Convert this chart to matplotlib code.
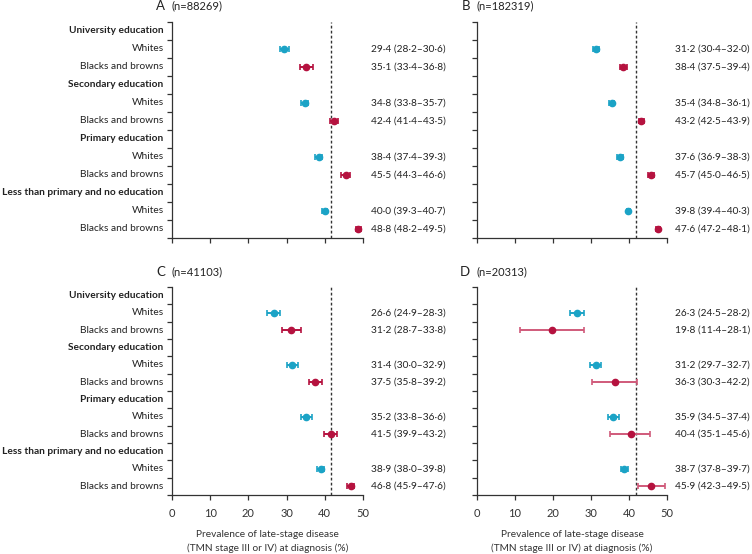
import matplotlib.pyplot as plt
import numpy as np

plt.rcParams['font.family'] = ['Lato', 'DejaVu Sans']

groups = ["University education", "Secondary education", "Primary education",
          "Less than primary and no education"]
races = ["Whites", "Blacks and browns"]

panel_names = ["A", "B", "C", "D"]
panel_n = ["(n=88269)", "(n=182319)", "(n=41103)", "(n=20313)"]
overall = [41.6, 41.8, 41.6, 41.8]

# estimate, lower, upper: order W, B&B per education group
est_a = [29.4, 35.1, 34.8, 42.4, 38.4, 45.5, 40.0, 48.8]
low_a = [28.2, 33.4, 33.8, 41.4, 37.4, 44.3, 39.3, 48.2]
upp_a = [30.6, 36.8, 35.7, 43.5, 39.3, 46.6, 40.7, 49.5]

est_b = [31.2, 38.4, 35.4, 43.2, 37.6, 45.7, 39.8, 47.6]
low_b = [30.4, 37.5, 34.8, 42.5, 36.9, 45.0, 39.4, 47.2]
upp_b = [32.0, 39.4, 36.1, 43.9, 38.3, 46.5, 40.3, 48.1]

est_c = [26.6, 31.2, 31.4, 37.5, 35.2, 41.5, 38.9, 46.8]
low_c = [24.9, 28.7, 30.0, 35.8, 33.8, 39.9, 38.0, 45.9]
upp_c = [28.3, 33.8, 32.9, 39.2, 36.6, 43.2, 39.8, 47.6]

est_d = [26.3, 19.8, 31.2, 36.3, 35.9, 40.4, 38.7, 45.9]
low_d = [24.5, 11.4, 29.7, 30.3, 34.5, 35.1, 37.8, 42.3]
upp_d = [28.2, 28.1, 32.7, 42.2, 37.4, 45.6, 39.7, 49.5]

panels = [(est_a, low_a, upp_a), (est_b, low_b, upp_b),
          (est_c, low_c, upp_c), (est_d, low_d, upp_d)]

BLUE = "#1ba3c6"
RED = "#b5123f"
FS = 7.3


def fmt(v):
    return f"{v:.1f}".replace(".", "\u00b7")


def draw_panel(ax, est, low, upp, name, n, ref, show_left, show_xlab, light_red):
    # 12 rows: header + 2 rows per education group
    labels = []
    for g in groups:
        labels.append((g, True))
        for r in races:
            labels.append((r, False))
    nrows = len(labels)
    idx = 0
    for i, (lab, is_head) in enumerate(labels):
        y = nrows - i - 0.5
        if show_left:
            ax.text(-2.2, y, lab, ha="right", va="center", fontsize=FS,
                    fontweight="bold" if is_head else "normal", color="#222222")
        if not is_head:
            e, lo, hi = est[idx], low[idx], upp[idx]
            col = BLUE if idx % 2 == 0 else RED
            ecol = col
            if light_red and col == RED:
                ecol = "#d05a7a"
            ax.errorbar(e, y, xerr=[[e - lo], [hi - e]], fmt="o", color=col,
                        ecolor=ecol, elinewidth=1.4, capsize=2.5, capthick=1.2,
                        markersize=4.5, zorder=3)
            ax.text(52.0, y, f"{fmt(e)} ({fmt(lo)}\u2013{fmt(hi)})",
                    ha="left", va="center", fontsize=FS, color="#222222")
            idx += 1
    ax.axvline(ref, color="#333333", linestyle=(0, (2, 1.6)), linewidth=1.0, zorder=1)
    ax.set_xlim(0, 50)
    ax.set_ylim(0, nrows)
    ax.set_yticks(np.arange(0, nrows + 1))
    ax.set_yticklabels([])
    ax.set_xticks(np.arange(0, 51, 10))
    if show_xlab:
        ax.set_xticklabels([str(v) for v in range(0, 51, 10)], fontsize=8)
        ax.set_xlabel("Prevalence of late-stage disease\n(TMN stage III or IV) at diagnosis (%)",
                      fontsize=FS, linespacing=1.55, color="#333333", labelpad=8)
    else:
        ax.set_xticklabels([])
    ax.tick_params(axis="both", length=3.5, width=0.9, color="#333333", labelcolor="#333333")
    ax.tick_params(axis="x", pad=6)
    for s in ["top", "right"]:
        ax.spines[s].set_visible(False)
    for s in ["left", "bottom"]:
        ax.spines[s].set_linewidth(0.9)
        ax.spines[s].set_color("#333333")
    ax.text(-1.8, nrows + 0.88, name, ha="right", va="center", fontsize=9.5, color="#222222")
    ax.text(0, nrows + 0.88, n, ha="left", va="center", fontsize=8, color="#222222")


fig = plt.figure(figsize=(7.52, 5.54), dpi=100)
boxes = [
    [0.2287, 0.5704, 0.254, 0.3899],
    [0.6343, 0.5704, 0.2527, 0.3899],
    [0.2287, 0.1065, 0.254, 0.3755],
    [0.6343, 0.1065, 0.2527, 0.3755],
]
for k in range(4):
    ax = fig.add_axes(boxes[k])
    est, low, upp = panels[k]
    draw_panel(ax, est, low, upp, panel_names[k], panel_n[k], overall[k],
               show_left=(k % 2 == 0), show_xlab=(k >= 2), light_red=(k == 3))

fig.savefig("out.png", dpi=100)
